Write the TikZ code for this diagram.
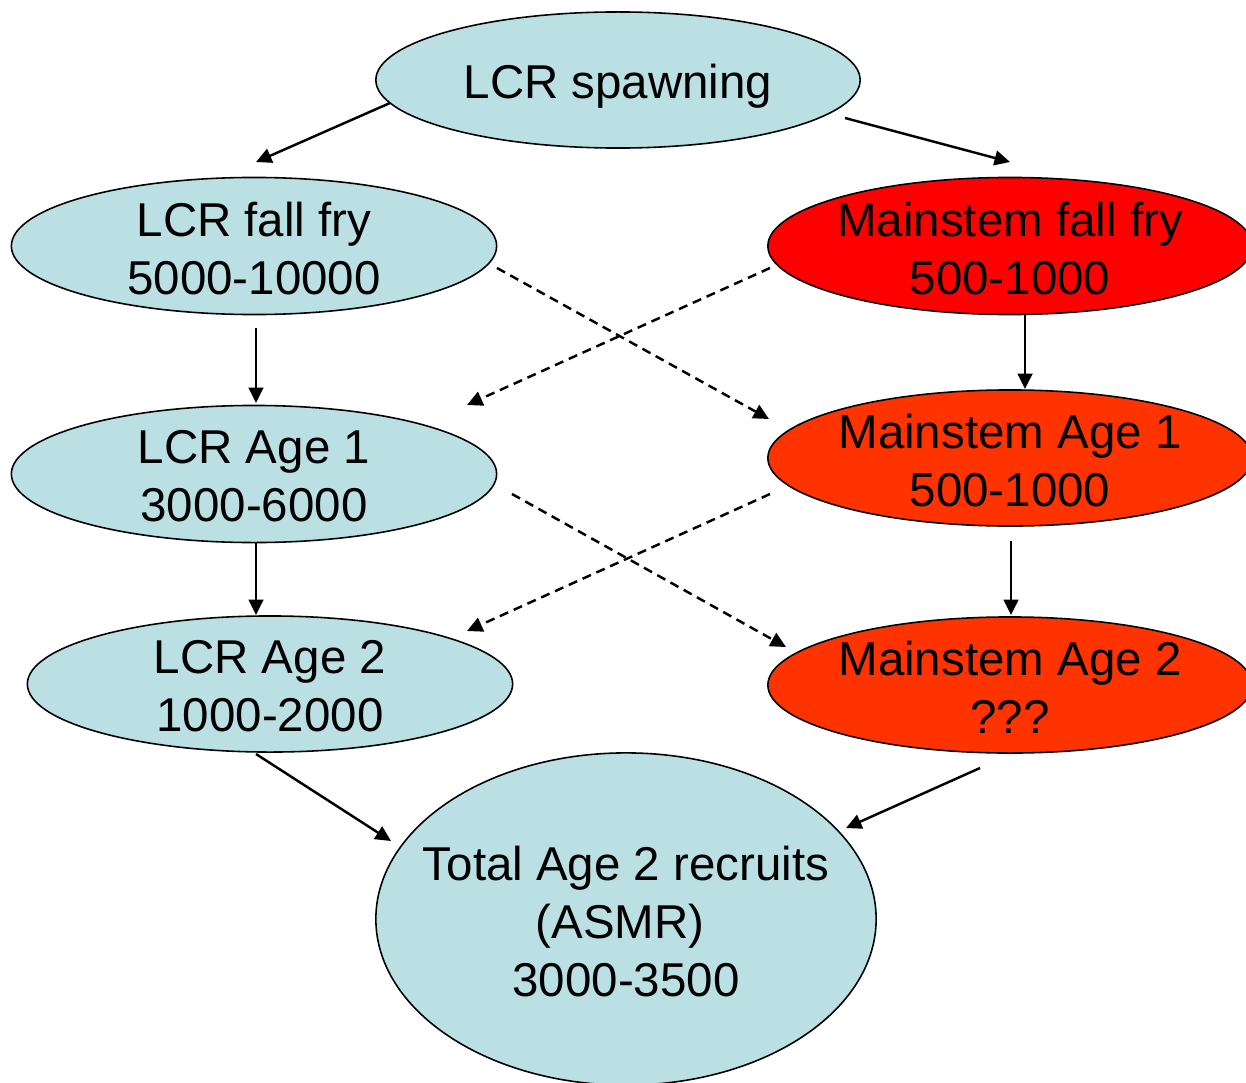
\documentclass[tikz,border=0pt]{standalone}
\usepackage{fontspec}
\setmainfont{Liberation Sans}
\usetikzlibrary{shapes.geometric,arrows.meta}

\definecolor{paleblue}{RGB}{187,224,227}
\definecolor{hotred}{RGB}{255,0,0}
\definecolor{flame}{RGB}{255,51,0}

\tikzset{
  blob/.style={ellipse, draw=black, line width=0.45pt, inner sep=0pt, outer sep=0pt},
  lbl/.style={align=center, inner sep=0pt, yshift=-0.6pt, font=\fontsize{13.5}{16.5}\selectfont},
  flow/.style={line width=0.7pt, -{Triangle[length=4.4pt,width=4.2pt]}},
  cross/.style={flow, dash pattern=on 2.6pt off 1.7pt},
}

\begin{document}
\begin{tikzpicture}[x=0.01cm, y=-0.01cm]
\path[use as bounding box, clip] (0,0) rectangle (1246,1082);

% stages
\node[blob, fill=paleblue, minimum width=4.84cm, minimum height=1.36cm,
      label={[lbl, yshift=-1.2pt]center:LCR spawning}] (spawn) at (618,80) {};
\node[blob, fill=paleblue, minimum width=4.85cm, minimum height=1.37cm,
      label={[lbl]center:{LCR fall fry\\5000-10000}}] (lfry) at (254,246) {};
\node[blob, fill=hotred, minimum width=4.84cm, minimum height=1.37cm,
      label={[lbl]center:{Mainstem fall fry\\500-1000}}] (mfry) at (1010,246) {};
\node[blob, fill=paleblue, minimum width=4.85cm, minimum height=1.37cm,
      label={[lbl]center:{LCR Age 1\\3000-6000}}] (lage1) at (254,474) {};
\node[blob, fill=flame, minimum width=4.84cm, minimum height=1.36cm,
      label={[lbl]center:{Mainstem Age 1\\500-1000}}] (mage1) at (1010,458) {};
\node[blob, fill=paleblue, minimum width=4.85cm, minimum height=1.36cm,
      label={[lbl]center:{LCR Age 2\\1000-2000}}] (lage2) at (270,684) {};
\node[blob, fill=flame, minimum width=4.84cm, minimum height=1.36cm,
      label={[lbl]center:{Mainstem Age 2\\???}}] (mage2) at (1010,685) {};
\node[blob, fill=paleblue, minimum width=5.0cm, minimum height=3.32cm,
      label={[lbl]center:{Total Age 2 recruits\\(ASMR)\rule{0.12cm}{0pt}\\3000-3500}}] (total) at (626,919) {};

% connector ends
\coordinate (s1) at (390,103);  \coordinate (t1) at (256,162);
\coordinate (s2) at (845,118);  \coordinate (t2) at (1010,162);
\coordinate (s3) at (256,328);  \coordinate (t3) at (256,403);
\coordinate (s4) at (1025,315); \coordinate (t4) at (1025,389);
\coordinate (s5) at (256,542);  \coordinate (t5) at (256,615);
\coordinate (s6) at (1011,541); \coordinate (t6) at (1011,615);
\coordinate (s7) at (256,754);  \coordinate (t7) at (391,841);
\coordinate (s8) at (980,768);  \coordinate (t8) at (846,828);
\coordinate (s9) at (497,268);  \coordinate (t9) at (769,419);
\coordinate (s10) at (770,268); \coordinate (t10) at (467,405);
\coordinate (s11) at (512,494); \coordinate (t11) at (786,647);
\coordinate (s12) at (770,494); \coordinate (t12) at (467,631);

% stage-to-stage transitions
\draw[flow] (s1) -- (t1);
\draw[flow] (s2) -- (t2);
\draw[flow] (s3) -- (t3);
\draw[flow] (s4) -- (t4);
\draw[flow] (s5) -- (t5);
\draw[flow] (s6) -- (t6);
\draw[flow] (s7) -- (t7);
\draw[flow] (s8) -- (t8);

% movement between habitats
\draw[cross] (s9) -- (t9);
\draw[cross] (s10) -- (t10);
\draw[cross] (s11) -- (t11);
\draw[cross] (s12) -- (t12);
\end{tikzpicture}
\end{document}
